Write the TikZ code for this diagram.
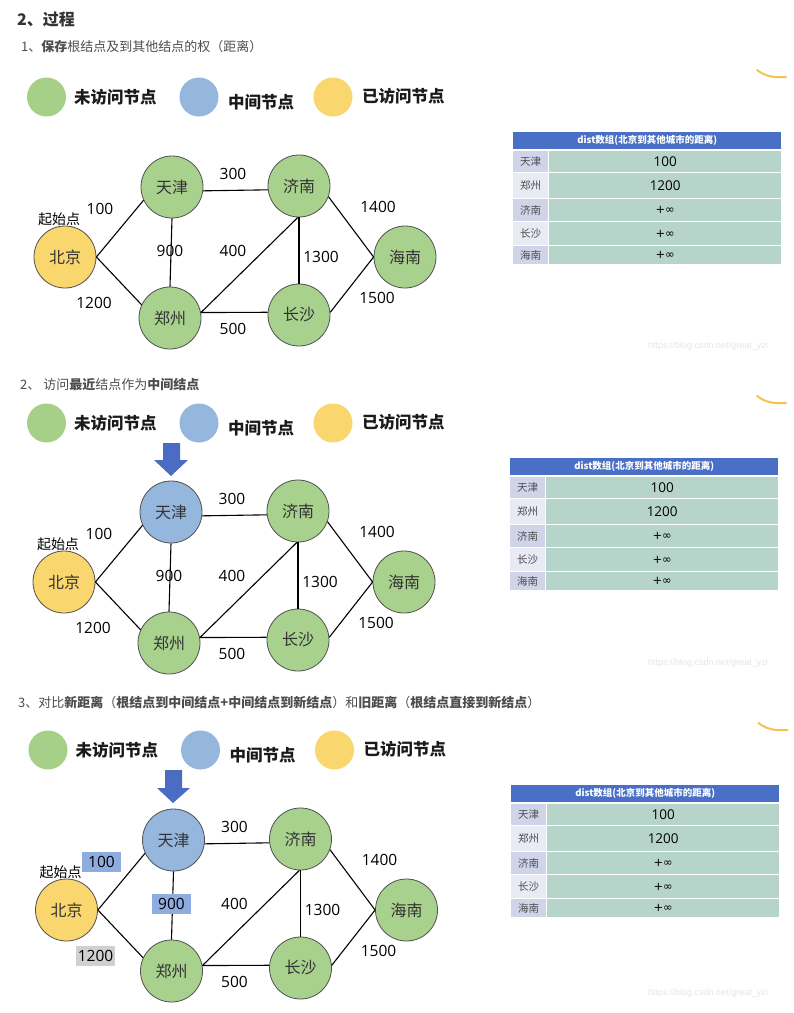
\documentclass[tikz,border=0pt]{standalone}
\usepackage{fontspec}
\setmainfont{Noto Sans CJK SC}
\newfontfamily\numf{Open Sans}
\newfontfamily\wmf{Liberation Sans}
\newfontfamily\symf{DejaVu Sans}
\definecolor{ngreen}{HTML}{A9D18E}
\definecolor{lgreen}{HTML}{A6CF87}
\definecolor{nblue}{HTML}{95B7DD}
\definecolor{nyellow}{HTML}{F9D66E}
\definecolor{nborder}{HTML}{505050}
\definecolor{arrowblue}{HTML}{4A6CC3}
\definecolor{thead}{HTML}{4A6FC6}
\definecolor{tleftA}{HTML}{D0D4E9}
\definecolor{tleftB}{HTML}{E8EAF4}
\definecolor{tright}{HTML}{B7D4CA}
\definecolor{orangec}{HTML}{F5C14F}
\definecolor{hlblue}{HTML}{8EACDF}
\definecolor{hlgray}{HTML}{D0D0D0}
\definecolor{headc}{HTML}{333333}
\definecolor{subc}{HTML}{4D4D4D}
\definecolor{wmc}{HTML}{E6E6E6}
\definecolor{lgdc}{HTML}{1A1A1A}
\tikzset{
  city/.style={circle, draw=nborder, line width=0.8pt, fill=ngreen, minimum size=62pt, inner sep=0pt,
    font=\fontsize{16}{16}\selectfont, text=headc},
  lgd/.style={circle, draw=none, minimum size=39pt, inner sep=0pt},
  lgdtext/.style={anchor=west, inner sep=0pt, font=\fontsize{16.5}{16.5}\selectfont\bfseries, text=lgdc},
  wlbl/.style={inner sep=0pt, font=\numf\fontsize{15.5}{15.5}\selectfont, text=black},
  startlbl/.style={inner sep=0pt, font=\fontsize{14}{14}\selectfont, text=black},
  edge/.style={line width=1.1pt, black},
  hl100/.style={}, hl900/.style={}, hl1200/.style={},
  headtxt/.style={anchor=west, inner sep=0pt, text=subc, font=\fontsize{13}{13}\selectfont},
  thcell/.style={anchor=north west, fill=thead, minimum width=268pt, minimum height=17pt, inner sep=0pt,
    text=white, font=\fontsize{9.5}{9.5}\selectfont\bfseries},
  lcell/.style={anchor=north west, minimum width=35pt, inner sep=0pt, text=subc, font=\fontsize{10.5}{10.5}\selectfont},
  rcell/.style={anchor=north west, fill=tright, minimum width=232pt, inner sep=0pt, text=black},
  wm/.style={anchor=west, inner sep=0pt, text=wmc, font=\wmf\fontsize{9}{9}\selectfont},
}
\newcommand{\citygraph}[5]{%
\begin{scope}[shift={(#1,#2)}, name prefix=#3, #5]
\node[city, fill=nyellow] (bj) at (65,257) {北京};
\node[city, fill=#4] (tj) at (172,187) {天津};
\node[city] (jn) at (299,186) {济南};
\node[city] (zz) at (170,318) {郑州};
\node[city] (cs) at (299,315) {长沙};
\node[city] (hn) at (405,257) {海南};
\node[startlbl] (start) at (59,219) {起始点};
\draw[edge] (bj.east) -- (tj.205);
\draw[edge] (bj.east) -- (zz.155);
\draw[edge] (tj.south) -- (zz.north);
\draw[edge] (tj.-7) -- (jn.187);
\draw[edge] (zz.10) -- (jn.-92);
\draw[edge] (zz.10) -- (cs.175);
\draw[edge] (jn.south) -- (cs.north);
\draw[edge] (jn.-20) -- (hn.west);
\draw[edge] (cs.5) -- (hn.west);
\node[wlbl, hl100] (w100) at (100,209) {100};
\node[wlbl, hl1200] (w1200) at (94,303) {1200};
\node[wlbl] (w300) at (233,174) {300};
\node[wlbl, hl900] (w900) at (170,251) {900};
\node[wlbl] (w400) at (233,251) {400};
\node[wlbl] (w1300) at (321,257) {1300};
\node[wlbl] (w1400) at (378,207) {1400};
\node[wlbl] (w1500) at (377,298) {1500};
\node[wlbl] (w500) at (233,329) {500};
\end{scope}}
\newcommand{\disttable}[3]{%
\begin{scope}[shift={(#1,#2)}, name prefix=#3]
\node[thcell] (th) at (513,132) {dist数组(北京到其他城市的距离)};
\node[lcell, fill=tleftA, minimum height=21pt] (l1) at (513,151) {天津};
\node[rcell, minimum height=21pt, font=\numf\fontsize{13.5}{13.5}\selectfont] (r1) at (549,151) {100};
\node[lcell, fill=tleftB, minimum height=25pt] (l2) at (513,173) {郑州};
\node[rcell, minimum height=25pt, font=\numf\fontsize{13.5}{13.5}\selectfont] (r2) at (549,173) {1200};
\node[lcell, fill=tleftA, minimum height=22pt] (l3) at (513,199) {济南};
\node[rcell, minimum height=22pt, font=\symf\fontsize{11.5}{11.5}\selectfont] (r3) at (549,199) {+∞};
\node[lcell, fill=tleftB, minimum height=23pt] (l4) at (513,222) {长沙};
\node[rcell, minimum height=23pt, font=\symf\fontsize{11.5}{11.5}\selectfont] (r4) at (549,222) {+∞};
\node[lcell, fill=tleftA, minimum height=18pt] (l5) at (513,246) {海南};
\node[rcell, minimum height=18pt, font=\symf\fontsize{11.5}{11.5}\selectfont] (r5) at (549,246) {+∞};
\end{scope}}
\newcommand{\legendrow}[3]{%
\begin{scope}[shift={(#1,#2)}, name prefix=#3]
\node[lgd, fill=lgreen] (cg) at (46.5,97) {};
\node[lgdtext] (tg) at (74,97) {未访问节点};
\node[lgd, fill=nblue] (cb) at (199,97) {};
\node[lgdtext] (tb) at (228,102) {中间节点};
\node[lgd, fill=nyellow] (cy) at (333,97) {};
\node[lgdtext] (ty) at (362,96) {已访问节点};
\draw[orangec, line width=2pt, line cap=round] (757,70) .. controls (765,76) and (773,78) .. (786,77);
\end{scope}}
\begin{document}
\begin{tikzpicture}[x=1pt, y=-1pt]
\useasboundingbox[fill=white] (0,0) rectangle (794,1013);
% headings
\node[anchor=west, inner sep=0pt, text=headc, font=\fontsize{16}{16}\selectfont\bfseries] (h0) at (17,20) {2、过程};
\node[headtxt] (h1) at (21,47) {1、\textbf{保存}根结点及到其他结点的权（距离）};
\node[headtxt] (h2) at (20,385) {2、 访问\textbf{最近}结点作为\textbf{中间结点}};
\node[headtxt] (h3) at (18,703) {3、对比\textbf{新距离}（\textbf{根结点到中间结点+中间结点到新结点}）和\textbf{旧距离}（\textbf{根结点直接到新结点}）};
% legends
\legendrow{0}{0}{a-}
\legendrow{0}{326}{b-}
\legendrow{1.5}{653}{c-}
% arrows
\fill[arrowblue] (163,443) -- (180,443) -- (180,460) -- (188,460) -- (171,476) -- (154,460) -- (163,460) -- cycle;
\fill[arrowblue] (165,770) -- (182,770) -- (182,788) -- (190,788) -- (173,803) -- (157,788) -- (165,788) -- cycle;
% graphs
\citygraph{0}{0}{p1-}{ngreen}{}
\citygraph{-1}{325}{p2-}{nblue}{}
\citygraph{1.5}{653}{p3-}{nblue}{hl100/.style={fill=hlblue, minimum width=39pt, minimum height=20pt}, hl900/.style={fill=hlblue, minimum width=39pt, minimum height=20pt}, hl1200/.style={fill=hlgray, minimum width=39pt, minimum height=20pt}}
% tables
\disttable{0}{0}{t1-}
\disttable{-3}{326}{t2-}
\disttable{-2}{653}{t3-}
% watermarks
\node[wm] (wm1) at (648,346) {https://blog.csdn.net/great\_yzl};
\node[wm] (wm2) at (648,663) {https://blog.csdn.net/great\_yzl};
\node[wm] (wm3) at (648,993) {https://blog.csdn.net/great\_yzl};
\end{tikzpicture}
\end{document}
